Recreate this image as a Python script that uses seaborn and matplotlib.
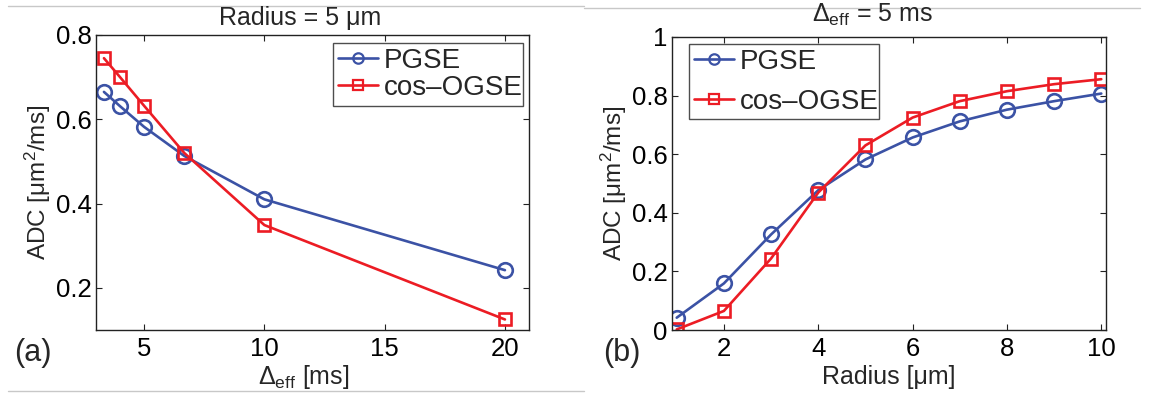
import matplotlib
matplotlib.use("Agg")
import matplotlib.pyplot as plt
import seaborn as sns
import pandas as pd
from matplotlib.lines import Line2D

sns.set_theme(style="white")
plt.rcParams['font.family'] = ['Liberation Sans', 'DejaVu Sans']
plt.rcParams['mathtext.fontset'] = 'custom'
plt.rcParams['mathtext.rm'] = 'Liberation Sans'
plt.rcParams['mathtext.it'] = 'Liberation Sans:italic'
plt.rcParams['mathtext.default'] = 'regular'

# Panel (a): ADC vs effective diffusion time, radius = 5 um
delta_eff = [3.33, 4, 5, 6.67, 10, 20]
adc_pgse_a = [0.665, 0.631, 0.582, 0.513, 0.410, 0.242]
adc_ogse_a = [0.745, 0.700, 0.632, 0.520, 0.349, 0.125]

# Panel (b): ADC vs radius, effective diffusion time = 5 ms
radius = [1, 2, 3, 4, 5, 6, 7, 8, 9, 10]
adc_pgse_b = [0.042, 0.159, 0.326, 0.477, 0.582, 0.657, 0.712, 0.752, 0.781, 0.807]
adc_ogse_b = [0.002, 0.065, 0.244, 0.469, 0.630, 0.725, 0.781, 0.815, 0.839, 0.856]

series_names = ["PGSE", "cos\u2013OGSE"]
blue = "#3b52a5"
red = "#ec1c24"

LW = 1.9
MS_O = 10.5
MS_S = 9.0

W, H = 1154, 393
fig = plt.figure(figsize=(W / 100, H / 100), dpi=100)
fig.patch.set_facecolor("white")

def px_axes(l, t, r, b):
    return fig.add_axes([l / W, 1 - b / H, (r - l) / W, (b - t) / H])

ax1 = px_axes(96, 35, 529, 330)
ax2 = px_axes(672, 37, 1106, 330)

def draw(ax, x, y1, y2):
    df1 = pd.DataFrame({"x": x, "y": y1})
    df2 = pd.DataFrame({"x": x, "y": y2})
    sns.lineplot(data=df1, x="x", y="y", ax=ax, color=blue, lw=LW,
                 marker="o", ms=MS_O, mfc="none", mec=blue, mew=LW)
    sns.lineplot(data=df2, x="x", y="y", ax=ax, color=red, lw=LW,
                 marker="s", ms=MS_S, mfc="none", mec=red, mew=LW)
    for s in ax.spines.values():
        s.set_color("#222222")
        s.set_linewidth(1.0)
    ax.tick_params(direction="in", length=4, width=0.8, color="#222222",
                   top=True, right=True, bottom=True, left=True,
                   labelsize=18.5, labelcolor="black")
    ax.tick_params(axis="y", pad=3)
    ax.tick_params(axis="x", pad=5)
    ax.set_xlabel("")
    ax.set_ylabel("ADC [\u03bcm$^2$/ms]", fontsize=17.5)
    handles = [Line2D([], [], color=blue, lw=LW, marker="o", ms=7.5,
                      mfc="none", mec=blue, mew=1.6),
               Line2D([], [], color=red, lw=LW, marker="s", ms=7,
                      mfc="none", mec=red, mew=1.6)]
    return handles

def place_legend(ax, handles, l, t, r, spacing):
    leg = ax.legend(handles, series_names, loc="upper left",
                    bbox_to_anchor=(l / W, 1 - t / H, (r - l) / W, 0.0),
                    bbox_transform=fig.transFigure, mode="expand",
                    borderaxespad=0.0, fontsize=20, frameon=True,
                    fancybox=False, edgecolor="#222222", handlelength=1.45,
                    handletextpad=0.2, borderpad=0.17, labelspacing=spacing)
    leg.get_frame().set_linewidth(1.0)
    return leg

h = draw(ax1, delta_eff, adc_pgse_a, adc_ogse_a)
ax1.set_xlim(3, 21)
ax1.set_ylim(0.1, 0.8)
ax1.set_xticks([5, 10, 15, 20])
ax1.set_yticks([0.2, 0.4, 0.6, 0.8])
ax1.set_yticklabels(["0.2", "0.4", "0.6", "0.8"])
ax1.yaxis.set_label_coords(-0.1, 0.5)
place_legend(ax1, h, 333, 43, 523, 0.05)

h = draw(ax2, radius, adc_pgse_b, adc_ogse_b)
ax2.set_xlim(0.9, 10.1)
ax2.set_ylim(0, 1)
ax2.set_xticks([2, 4, 6, 8, 10])
ax2.set_yticks([0, 0.2, 0.4, 0.6, 0.8, 1.0])
ax2.set_yticklabels(["0", "0.2", "0.4", "0.6", "0.8", "1"])
ax2.yaxis.set_label_coords(-0.1, 0.5)
place_legend(ax2, h, 689, 44, 879, 0.5)

def ftext(x, y, s, **kw):
    fig.text(x / W, 1 - y / H, s, ha="center", va="center", **kw)

ftext(300, 18, "Radius = 5 \u03bcm", fontsize=18)
ftext(872, 15, "\u0394$_{eff}$ = 5 ms", fontsize=18)
ftext(304, 377, "\u0394$_{eff}$ [ms]", fontsize=18)
ftext(889, 377, "Radius [\u03bcm]", fontsize=18)
ftext(33, 353, "(a)", fontsize=22)
ftext(622, 353, "(b)", fontsize=22)

# thin page edges around the two panels
gray = "#c8c8c8"
fig.add_artist(Line2D([8 / W, 584 / W], [1 - 6 / H, 1 - 6 / H], color=gray, lw=1))
fig.add_artist(Line2D([584 / W, 1140 / W], [1 - 8 / H, 1 - 8 / H], color=gray, lw=1))
fig.add_artist(Line2D([8 / W, 584 / W], [1 - 391 / H, 1 - 391 / H], color=gray, lw=1))

fig.savefig("out.png", dpi=100, facecolor="white")
